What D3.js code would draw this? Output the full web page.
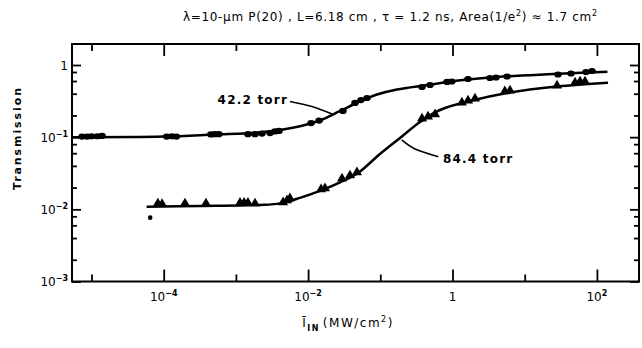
<!DOCTYPE html>
<html>
<head>
<meta charset="utf-8">
<script src="https://cdn.jsdelivr.net/npm/d3@7/dist/d3.min.js"></script>
<style>
  html, body { margin: 0; padding: 0; background: #fff; }
  svg { display: block; }
  text { font-family: "DejaVu Sans", "Liberation Sans", sans-serif; fill: #000; }
</style>
</head>
<body>
<svg id="chart" width="642" height="348"></svg>
<script>
// ---------------- data ----------------
// 42.2 torr : measured points (circles)
const p42x = [7.4e-6, 8.7e-6, 1.0e-5, 1.2e-5, 1.4e-5, 1.1e-4, 1.3e-4, 1.5e-4, 4.5e-4, 5.1e-4, 5.8e-4,
              1.47e-3, 1.84e-3, 2.3e-3, 2.97e-3, 3.48e-3, 3.96e-3, 0.011, 0.0142, 0.0304, 0.0446, 0.054,
              0.0655, 0.378, 0.488, 0.84, 0.98, 1.64, 3.3, 4.0, 5.7, 28.9, 43.8, 70.6, 85.5];
const p42y = [0.102, 0.102, 0.103, 0.103, 0.104, 0.102, 0.103, 0.102, 0.109, 0.110, 0.110,
              0.110, 0.110, 0.112, 0.114, 0.120, 0.122, 0.157, 0.170, 0.231, 0.298, 0.327,
              0.349, 0.496, 0.528, 0.582, 0.591, 0.640, 0.660, 0.671, 0.693, 0.738, 0.762, 0.800, 0.826];
// 42.2 torr : fitted curve
const c42x = [5.4e-6, 1e-4, 5e-4, 2e-3, 4.5e-3, 8e-3, 0.0145, 0.027, 0.05, 0.09, 0.17, 0.45, 1.2, 5, 25, 140];
const c42y = [0.100, 0.102, 0.109, 0.116, 0.128, 0.143, 0.170, 0.227, 0.307, 0.390, 0.458, 0.528, 0.610, 0.693, 0.750, 0.808];

// 84.4 torr : measured points (triangles)
const p84x = [8.3e-5, 9.5e-5, 1.97e-4, 3.85e-4, 1.14e-3, 1.3e-3, 1.47e-3, 1.84e-3, 4.5e-3, 5.1e-3, 5.6e-3,
              0.0151, 0.0171, 0.0295, 0.038, 0.0475, 0.378, 0.458, 0.573, 1.35, 1.64, 2.05, 5.3, 6.26,
              28, 49.8, 58.4, 68.4];
const p84y = [0.0115, 0.0113, 0.0115, 0.0115, 0.0117, 0.0117, 0.0117, 0.0115, 0.0119, 0.0127, 0.0135,
              0.0180, 0.0186, 0.0255, 0.0281, 0.0310, 0.173, 0.184, 0.197, 0.288, 0.307, 0.327, 0.410, 0.423,
              0.496, 0.545, 0.563, 0.563];
// stray point below the 84.4 torr data
const strayX = [6.5e-5];
const strayY = [0.00767];
// 84.4 torr : fitted curve
const c84x = [5.8e-5, 3.18e-4, 2.16e-3, 4.08e-3, 7.7e-3, 0.0146, 0.0277, 0.0491, 0.099, 0.1875, 0.355, 0.671, 1.75, 5.69, 28, 142.5];
const c84y = [0.0109, 0.0111, 0.0115, 0.0121, 0.0144, 0.0180, 0.0236, 0.0319, 0.0585, 0.0975, 0.1625, 0.238, 0.317, 0.410, 0.504, 0.569];

// ticks
const xMajorTicks = [1e-4, 1e-2, 1, 1e2];
const xMinorTicks = [1e-5, 1e-3, 1e-1, 1e1];
const xTickBase = ["10", "10", "1", "10"];
const xTickExp  = ["\u22124", "\u22122", "", "2"];
const yMajorTicks = [1, 1e-1, 1e-2, 1e-3];
const yMinorTicks = [0.8, 0.6, 0.4, 0.2, 0.08, 0.06, 0.04, 0.02, 0.008, 0.006, 0.004, 0.002];
const yTickBase = ["1", "10", "10", "10"];
const yTickExp  = ["", "\u22121", "\u22122", "\u22123"];

// series labels and leader lines (data coordinates)
const seriesLabels = ["42.2 torr", "84.4 torr"];
const labelAt = [[5.27e-3, 0.335, "end"], [0.739, 0.051, "start"]];
const leader42x = [5.61e-3, 0.0113, 0.0214];
const leader42y = [0.312, 0.266, 0.2096];
const leader84x = [0.198, 0.303, 0.636];
const leader84y = [0.0915, 0.0687, 0.0537];

// ---------------- drawing ----------------
const L = 72, R = 639, T = 44, B = 281.5;
const svg = d3.select("#chart");

const x = d3.scaleLog().domain([Math.pow(10, -5.27), Math.pow(10, 2.583)]).range([L, R]);
const y = d3.scaleLog().domain([1e-3, Math.pow(10, 0.291)]).range([B, T]);

// frame
svg.append("rect").attr("x", L).attr("y", T).attr("width", R - L).attr("height", B - T)
  .attr("fill", "none").attr("stroke", "#000").attr("stroke-width", 2);

function axisTicks(axisFn, scale, vals, size, transform) {
  const g = svg.append("g").attr("transform", transform)
    .call(axisFn(scale).tickValues(vals).tickSize(size).tickFormat(""));
  g.select(".domain").remove();
  g.selectAll(".tick line").attr("stroke", "#000").attr("stroke-width", 1.8);
  return g;
}
// bottom / top (inward)
axisTicks(d3.axisBottom, x, xMajorTicks, -12, `translate(0,${B})`);
axisTicks(d3.axisBottom, x, xMinorTicks, -7, `translate(0,${B})`);
axisTicks(d3.axisTop, x, xMajorTicks, -12, `translate(0,${T})`);
axisTicks(d3.axisTop, x, xMinorTicks, -7, `translate(0,${T})`);
// left / right (inward)
axisTicks(d3.axisLeft, y, yMajorTicks, -9, `translate(${L},0)`);
axisTicks(d3.axisLeft, y, yMinorTicks, -5, `translate(${L},0)`);
axisTicks(d3.axisRight, y, yMajorTicks, -9, `translate(${R},0)`);
axisTicks(d3.axisRight, y, yMinorTicks, -5, `translate(${R},0)`);

// x tick labels
xMajorTicks.forEach((v, i) => {
  const t = svg.append("text").attr("x", x(v)).attr("y", 301)
    .attr("text-anchor", "middle").attr("font-size", 12);
  t.append("tspan").text(xTickBase[i]);
  if (xTickExp[i]) t.append("tspan").attr("dy", -5).attr("font-size", 8).attr("font-weight", "bold").text(xTickExp[i]);
});
// y tick labels
yMajorTicks.forEach((v, i) => {
  const t = svg.append("text").attr("x", 68).attr("y", y(v) + 4.5)
    .attr("text-anchor", "end").attr("font-size", 12);
  t.append("tspan").text(yTickBase[i]);
  if (yTickExp[i]) t.append("tspan").attr("dy", -5).attr("font-size", 8).attr("font-weight", "bold").text(yTickExp[i]);
});

// curves
const line = d3.line().x(d => x(d[0])).y(d => y(d[1])).curve(d3.curveCatmullRom.alpha(0.5));
svg.append("path").datum(d3.zip(c42x, c42y)).attr("d", line)
  .attr("fill", "none").attr("stroke", "#000").attr("stroke-width", 2.5);
svg.append("path").datum(d3.zip(c84x, c84y)).attr("d", line)
  .attr("fill", "none").attr("stroke", "#000").attr("stroke-width", 2.5);

// markers
svg.append("g").selectAll("ellipse").data(d3.zip(p42x, p42y)).join("ellipse")
  .attr("cx", d => x(d[0])).attr("cy", d => y(d[1])).attr("rx", 3.8).attr("ry", 3.1).attr("fill", "#000");
const tri = d3.symbol().type(d3.symbolTriangle).size(44);
svg.append("g").selectAll("path").data(d3.zip(p84x, p84y)).join("path")
  .attr("d", tri).attr("transform", d => `translate(${x(d[0])},${y(d[1]) - 1.5})`).attr("fill", "#000");
svg.append("g").selectAll("circle").data(d3.zip(strayX, strayY)).join("circle")
  .attr("cx", d => x(d[0])).attr("cy", d => y(d[1])).attr("r", 2.3).attr("fill", "#000");

// leader lines
const lead = d3.line().x(d => x(d[0])).y(d => y(d[1])).curve(d3.curveNatural);
svg.append("path").datum(d3.zip(leader42x, leader42y)).attr("d", lead)
  .attr("fill", "none").attr("stroke", "#000").attr("stroke-width", 1.6);
svg.append("path").datum(d3.zip(leader84x, leader84y)).attr("d", lead)
  .attr("fill", "none").attr("stroke", "#000").attr("stroke-width", 1.6);

// series labels
seriesLabels.forEach((s, i) => {
  svg.append("text").attr("x", x(labelAt[i][0])).attr("y", y(labelAt[i][1]) + 4.5)
    .attr("text-anchor", labelAt[i][2]).attr("font-size", 12).attr("font-weight", "bold")
    .attr("letter-spacing", 1.2).text(s);
});

// title
const title = svg.append("text").attr("x", 390).attr("y", 21).attr("text-anchor", "middle")
  .attr("font-size", 12).attr("textLength", 414).attr("lengthAdjust", "spacing");
title.append("tspan").text("\u03bb=10-\u03bcm  P(20) ,  L=6.18 cm ,  \u03c4 = 1.2 ns, Area(1/e");
title.append("tspan").attr("dy", -5).attr("font-size", 8).text("2");
title.append("tspan").attr("dy", 5).text(") \u2248 1.7 cm");
title.append("tspan").attr("dy", -5).attr("font-size", 8).text("2");

// y axis title
svg.append("text").attr("transform", "translate(21,139) rotate(-90)")
  .attr("text-anchor", "middle").attr("font-size", 11).attr("font-weight", "bold")
  .attr("textLength", 102).attr("lengthAdjust", "spacing").text("Transmission");

// x axis title
const xt = svg.append("text").attr("x", 348).attr("y", 327).attr("text-anchor", "middle")
  .attr("font-size", 12).attr("letter-spacing", 1.5);
xt.append("tspan").text("\u012a");
xt.append("tspan").attr("dy", 4).attr("font-size", 8).attr("font-weight", "bold").text("IN");
xt.append("tspan").attr("dy", -4).attr("dx", 3).text("(MW/cm");
xt.append("tspan").attr("dy", -5).attr("font-size", 8).text("2");
xt.append("tspan").attr("dy", 5).text(")");
</script>
</body>
</html>
